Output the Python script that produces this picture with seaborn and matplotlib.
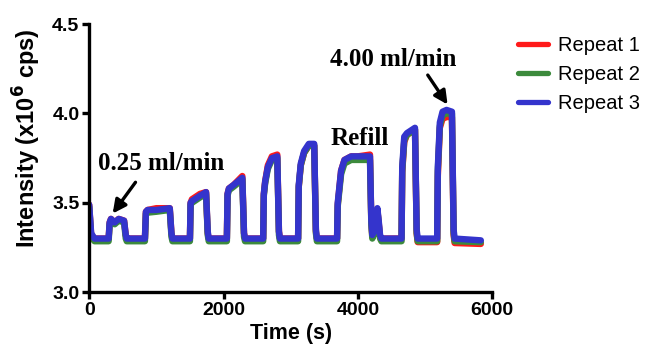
import matplotlib
matplotlib.use("Agg")
import matplotlib.pyplot as plt
import seaborn as sns
import pandas as pd

# ---- data ----
time_s = [0, 30, 80, 290,
          305, 325, 380, 440, 520,
          545, 560, 830,
          845, 870, 1000, 1200,
          1225, 1240, 1500,
          1510, 1530, 1650, 1740,
          1765, 1780, 2050,
          2060, 2080, 2150, 2280,
          2305, 2320, 2590,
          2600, 2620, 2660, 2720, 2800,
          2825, 2840, 3110,
          3120, 3150, 3200, 3270, 3350,
          3375, 3390, 3690,
          3700, 3750, 3800, 3900, 4000, 4180,
          4200, 4215, 4270, 4290, 4310, 4330, 4350, 4650,
          4660, 4690, 4730, 4850,
          4875, 4890, 5180,
          5190, 5220, 5260, 5320, 5400,
          5425, 5440, 5830]

repeat3 = [3.49, 3.33, 3.30, 3.30,
           3.39, 3.41, 3.39, 3.41, 3.40,
           3.32, 3.30, 3.30,
           3.45, 3.46, 3.46, 3.47,
           3.33, 3.30, 3.30,
           3.50, 3.51, 3.54, 3.56,
           3.34, 3.30, 3.30,
           3.55, 3.58, 3.60, 3.64,
           3.33, 3.30, 3.30,
           3.55, 3.62, 3.70, 3.75, 3.76,
           3.34, 3.30, 3.30,
           3.60, 3.72, 3.79, 3.83, 3.83,
           3.35, 3.30, 3.30,
           3.50, 3.68, 3.74, 3.76, 3.76, 3.76,
           3.40, 3.32, 3.36, 3.47, 3.40, 3.32, 3.30, 3.30,
           3.70, 3.87, 3.89, 3.92,
           3.35, 3.30, 3.30,
           3.70, 3.95, 4.01, 4.02, 4.01,
           3.35, 3.30, 3.29]

repeat2 = [3.48, 3.31, 3.285, 3.285,
           3.38, 3.40, 3.38, 3.40, 3.39,
           3.30, 3.285, 3.285,
           3.44, 3.445, 3.45, 3.46,
           3.31, 3.285, 3.285,
           3.49, 3.50, 3.53, 3.55,
           3.32, 3.285, 3.285,
           3.54, 3.57, 3.59, 3.63,
           3.31, 3.285, 3.285,
           3.54, 3.61, 3.69, 3.74, 3.75,
           3.32, 3.285, 3.285,
           3.59, 3.71, 3.78, 3.82, 3.82,
           3.33, 3.285, 3.285,
           3.48, 3.66, 3.72, 3.74, 3.74, 3.74,
           3.38, 3.30, 3.35, 3.46, 3.38, 3.30, 3.285, 3.285,
           3.68, 3.85, 3.88, 3.91,
           3.33, 3.285, 3.285,
           3.68, 3.93, 3.99, 4.00, 4.00,
           3.33, 3.285, 3.28]

repeat1 = [3.49, 3.32, 3.30, 3.30,
           3.39, 3.41, 3.39, 3.41, 3.40,
           3.32, 3.30, 3.30,
           3.45, 3.46, 3.47, 3.47,
           3.33, 3.30, 3.30,
           3.50, 3.52, 3.55, 3.56,
           3.33, 3.30, 3.30,
           3.55, 3.58, 3.60, 3.65,
           3.33, 3.30, 3.30,
           3.55, 3.62, 3.71, 3.76, 3.77,
           3.34, 3.30, 3.30,
           3.59, 3.71, 3.78, 3.82, 3.82,
           3.34, 3.30, 3.30,
           3.49, 3.68, 3.74, 3.76, 3.76, 3.77,
           3.39, 3.31, 3.35, 3.46, 3.39, 3.31, 3.30, 3.30,
           3.67, 3.84, 3.88, 3.91,
           3.33, 3.28, 3.28,
           3.65, 3.92, 3.97, 3.98, 3.98,
           3.32, 3.275, 3.27]

series_names = ["Repeat 1", "Repeat 2", "Repeat 3"]
series_colors = ["#ff1a1a", "#3c8a3c", "#3434cc"]

x_ticks = [0, 2000, 4000, 6000]
y_ticks = [3.0, 3.5, 4.0, 4.5]

# ---- build long table ----
frames = []
for name, vals in zip(series_names, [repeat1, repeat2, repeat3]):
    frames.append(pd.DataFrame({"Time": time_s, "Intensity": vals, "Repeat": name}))
df = pd.concat(frames, ignore_index=True)

sns.set_style("ticks")
plt.rcParams["font.family"] = ["Liberation Sans", "DejaVu Sans"]
plt.rcParams["text.color"] = "black"
plt.rcParams["axes.labelcolor"] = "black"
plt.rcParams["xtick.color"] = "black"
plt.rcParams["ytick.color"] = "black"

fig = plt.figure(figsize=(6.46, 3.55), dpi=100)
ax = fig.add_axes([0.138, 0.177, 0.624, 0.755])

sns.lineplot(data=df, x="Time", y="Intensity", hue="Repeat",
             palette=dict(zip(series_names, series_colors)),
             estimator=None, sort=False, linewidth=4.6, ax=ax)

ax.set_xlim(0, 6000)
ax.set_ylim(3.0, 4.5)
ax.set_xticks(x_ticks)
ax.set_yticks(y_ticks)
ax.set_xticklabels([str(t) for t in x_ticks], fontweight="bold", fontsize=14)
ax.set_yticklabels([f"{t:.1f}" for t in y_ticks], fontweight="bold", fontsize=14)
ax.set_xlabel("Time (s)", fontweight="bold", fontsize=15.5, labelpad=3)
ax.set_ylabel(r"Intensity (x10$^{\mathbf{6}}$ cps)", fontweight="bold", fontsize=17, labelpad=6)
ax.yaxis.set_label_coords(-0.115, 0.575)

sns.despine(ax=ax)
for side in ["left", "bottom"]:
    ax.spines[side].set_linewidth(2.4)
    ax.spines[side].set_color("black")
ax.tick_params(axis="both", width=2.4, length=5, direction="out", pad=2, colors="black")

leg = ax.legend(loc="upper left", bbox_to_anchor=(1.02, 1.025), frameon=False,
                fontsize=14.5, handlelength=1.45, handletextpad=0.5, labelspacing=0.5)
for line in leg.get_lines():
    line.set_linewidth(3.8)

serif = ["Liberation Serif", "DejaVu Serif"]
arrow_kw = dict(arrowstyle="-|>", color="black", lw=2.4, mutation_scale=20,
                shrinkA=0, shrinkB=0)
ax.text(1073, 3.72, "0.25 ml/min", fontsize=18, fontweight="bold", family=serif,
        ha="center", va="center")
ax.annotate("", xy=(350, 3.44), xytext=(690, 3.615), arrowprops=arrow_kw)
ax.text(4530, 4.30, "4.00 ml/min", fontsize=18, fontweight="bold", family=serif,
        ha="center", va="center")
ax.annotate("", xy=(5335, 4.05), xytext=(5040, 4.215), arrowprops=arrow_kw)
ax.text(4025, 3.86, "Refill", fontsize=18, fontweight="bold", family=serif,
        ha="center", va="center")

fig.savefig("out.png", dpi=100)
